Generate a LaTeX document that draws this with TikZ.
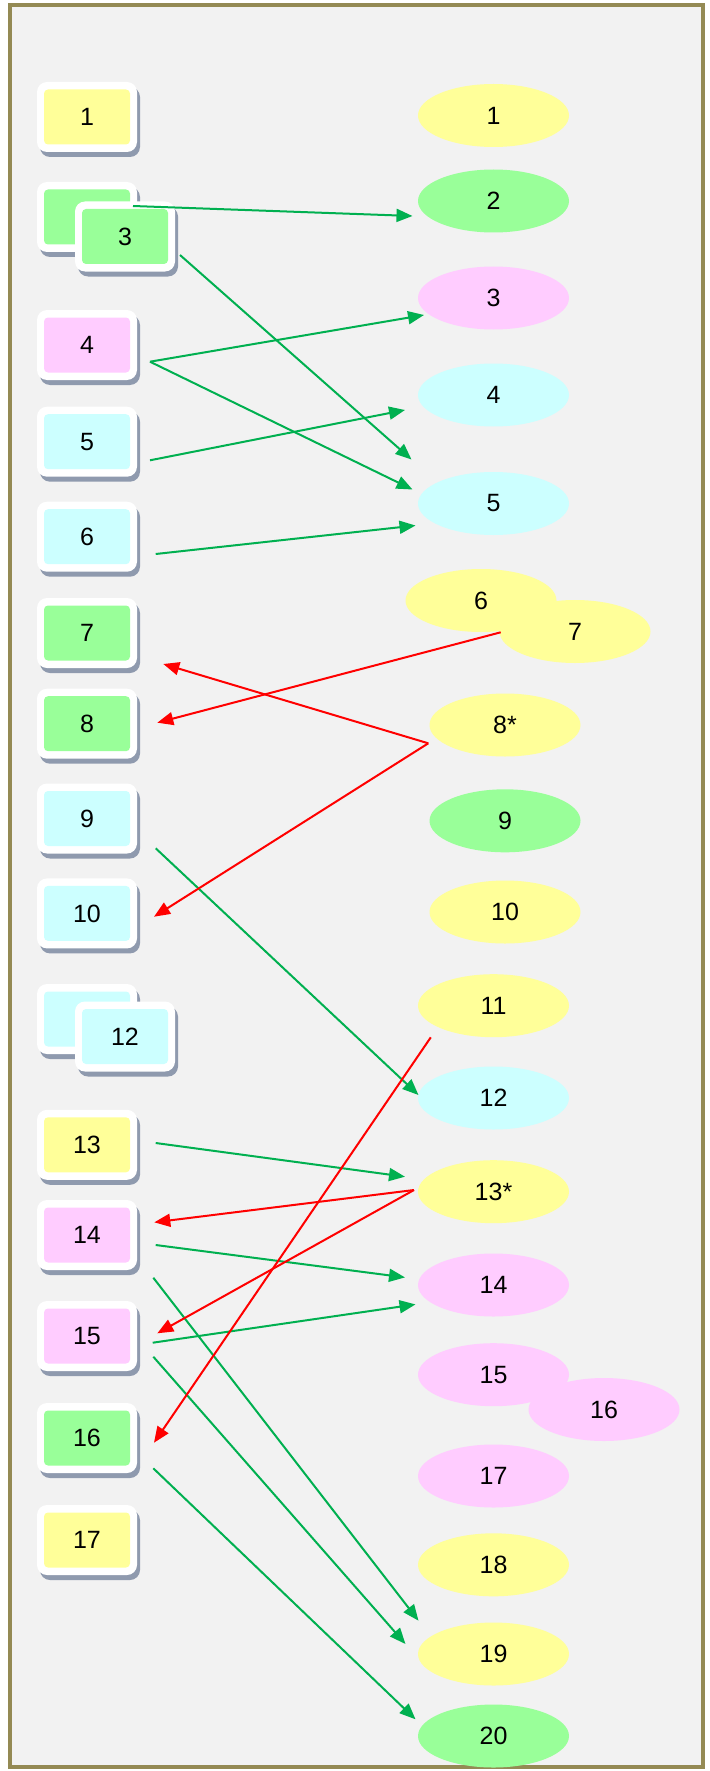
\documentclass[tikz,border=0pt]{standalone}
\usepackage{fontspec}
\setmainfont{Liberation Sans}
\usetikzlibrary{shapes.geometric,arrows.meta}

\definecolor{frameC}{HTML}{948A54}
\definecolor{paperC}{HTML}{F2F2F2}
\definecolor{yel}{HTML}{FFFF99}
\definecolor{grn}{HTML}{99FF99}
\definecolor{pnk}{HTML}{FFCCFF}
\definecolor{cyn}{HTML}{CCFFFF}
\definecolor{shadowC}{HTML}{8F9AAE}
\definecolor{linkG}{HTML}{00B050}
\definecolor{linkR}{HTML}{FF0000}

\tikzset{
  outerbox/.style={rectangle, rounded corners=5pt, minimum width=50pt,
    minimum height=35pt, inner sep=0pt, fill=white},
  innerbox/.style={rectangle, rounded corners=2pt, minimum width=43pt,
    minimum height=27.5pt, inner sep=0pt},
  oval/.style={ellipse, minimum width=75.5pt, minimum height=31.5pt, inner sep=0pt},
  link/.style={line width=1pt, -{Triangle[length=8pt,width=6.5pt]}},
  ok/.style={link, linkG},
  bad/.style={link, linkR},
}

% name, x, y, fill colour, label
\newcommand\leftbox[5]{%
  \node[outerbox, fill=shadowC] at (#2+3,#3+5) {};
  \node[outerbox] (#1) at (#2,#3) {};
  \node[innerbox, fill=#4] (#1in) at (#1) {#5};
}

\begin{document}
\begin{tikzpicture}[x=0.5pt, y=-0.5pt, font=\fontsize{12.5}{15}\selectfont]
\useasboundingbox (0,0) rectangle (709,1771);
\fill[white] (0,0) rectangle (709,1771);
\draw[frameC, line width=2pt, fill=paperC] (10,5) rectangle (703,1767);

% left column
\leftbox{b1}{87}{117}{yel}{1}
\leftbox{b2}{87}{217}{grn}{}
\leftbox{b3}{125}{236.5}{grn}{3}
\leftbox{b4}{87}{345}{pnk}{4}
\leftbox{b5}{87}{441.7}{cyn}{5}
\leftbox{b6}{87}{536.7}{cyn}{6}
\leftbox{b7}{87}{633}{grn}{7}
\leftbox{b8}{87}{723.7}{grn}{8}
\leftbox{b9}{87}{818.5}{cyn}{9}
\leftbox{b10}{87}{913.4}{cyn}{10}
\leftbox{b11}{87}{1019}{cyn}{}
\leftbox{b12}{125}{1036.5}{cyn}{12}
\leftbox{b13}{87}{1144.8}{yel}{13}
\leftbox{b14}{87}{1235}{pnk}{14}
\leftbox{b15}{87}{1336}{pnk}{15}
\leftbox{b16}{87}{1438}{grn}{16}
\leftbox{b17}{87}{1540}{yel}{17}

% right column
\node[oval, fill=yel] (e1)  at (493.5,115.5) {1};
\node[oval, fill=grn] (e2)  at (493.5,201)   {2};
\node[oval, fill=pnk] (e3)  at (493.5,298)   {3};
\node[oval, fill=cyn] (e4)  at (493.5,395)   {4};
\node[oval, fill=cyn] (e5)  at (493.5,503.5) {5};
\node[oval, fill=yel] (e6)  at (481,600.5)   {6};
\node[oval, fill=yel] (e7)  at (575,631.5)   {7};
\node[oval, fill=yel] (e8)  at (505,725)     {8*};
\node[oval, fill=grn] (e9)  at (505,820.8)   {9};
\node[oval, fill=yel] (e10) at (505,912)     {10};
\node[oval, fill=yel] (e11) at (493.5,1005.7) {11};
\node[oval, fill=cyn] (e12) at (493.5,1098)  {12};
\node[oval, fill=yel] (e13) at (493.5,1191.7) {13*};
\node[oval, fill=pnk] (e14) at (493.5,1285)  {14};
\node[oval, fill=pnk] (e15) at (493.5,1374.7) {15};
\node[oval, fill=pnk] (e16) at (604,1409.5)  {16};
\node[oval, fill=pnk] (e17) at (493.5,1476)  {17};
\node[oval, fill=yel] (e18) at (493.5,1564.8) {18};
\node[oval, fill=yel] (e19) at (493.5,1654)  {19};
\node[oval, fill=grn] (e20) at (493.5,1736)  {20};

% green links, left to right
\draw[ok] ([shift={(46,-11)}]b2.center)    -- ([shift={(-81,15)}]e2.center);
\draw[ok] ([shift={(55,18.5)}]b3.center)   -- ([shift={(-82,-44)}]e5.center);
\draw[ok] ([shift={(63,16.7)}]b4.center)   -- ([shift={(-69.5,17)}]e3.center);
\draw[ok] ([shift={(63,16.7)}]b4.center)   -- ([shift={(-81,-14)}]e5.center);
\draw[ok] ([shift={(63,18.6)}]b5.center)   -- ([shift={(-88.5,15)}]e4.center);
\draw[ok] ([shift={(68.7,17.3)}]b6.center) -- ([shift={(-78,22)}]e5.center);
\draw[ok] ([shift={(68.7,29.8)}]b9.center) -- ([shift={(-75,-3)}]e12.center);
\draw[ok] ([shift={(68.7,-1.8)}]b13.center) -- ([shift={(-88.5,-15)}]e13.center);
\draw[ok] ([shift={(68.7,10)}]b14.center)  -- ([shift={(-88.5,-7.6)}]e14.center);
\draw[ok] ([shift={(65.7,6.7)}]b15.center) -- ([shift={(-78,19.4)}]e14.center);
\draw[ok] ([shift={(66.3,42.7)}]b14.center) -- ([shift={(-75,-33.3)}]e19.center);
\draw[ok] ([shift={(66.3,20.7)}]b15.center) -- ([shift={(-88,-10)}]e19.center);
\draw[ok] ([shift={(66.3,30.3)}]b16.center) -- ([shift={(-78,-16.7)}]e20.center);

% red links, right to left
\draw[bad] ([shift={(-74.3,0.8)}]e7.center)  -- ([shift={(70.3,-1)}]b8.center);
\draw[bad] ([shift={(-76.7,18.3)}]e8.center) -- ([shift={(76.3,31)}]b7.center);
\draw[bad] ([shift={(-76.7,18.3)}]e8.center) -- ([shift={(67,3.3)}]b10.center);
\draw[bad] ([shift={(-62.7,31.6)}]e11.center) -- ([shift={(67,4.7)}]b16.center);
\draw[bad] ([shift={(-79.5,-1.7)}]e13.center) -- ([shift={(67.3,-12.7)}]b14.center);
\draw[bad] ([shift={(-79.5,-1.7)}]e13.center) -- ([shift={(70.3,-2.7)}]b15.center);
\end{tikzpicture}
\end{document}
